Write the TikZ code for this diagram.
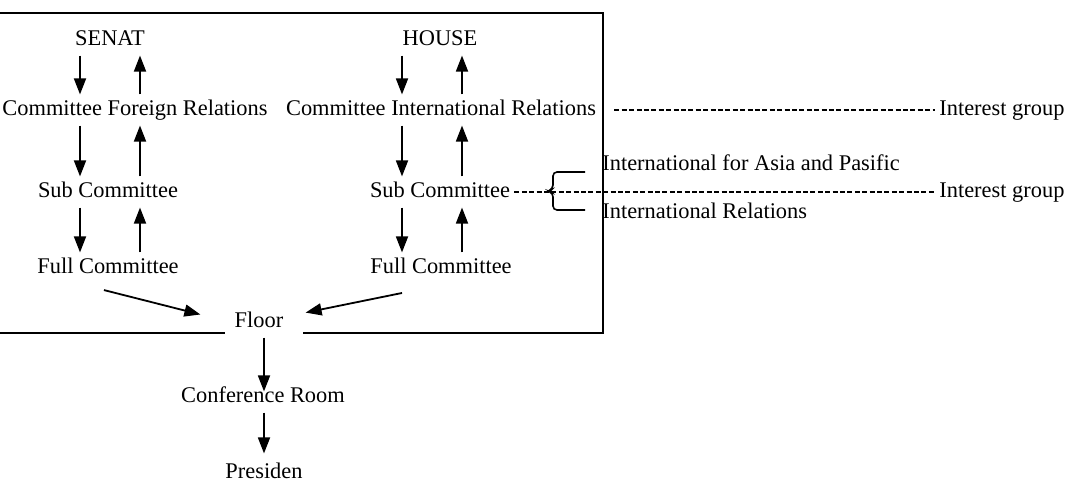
\documentclass[tikz,border=0pt]{standalone}
\usepackage{fontspec}
\setmainfont{Liberation Serif}
\usetikzlibrary{arrows.meta, calc}

\begin{document}
\begin{tikzpicture}[
  x=0.5pt, y=-0.5pt,
  entry/.style={font=\fontsize{11.2}{13}\selectfont, inner sep=2pt,
                text height=1.6ex, text depth=0.4ex},
  arrow/.style={-{Triangle[length=8pt,width=6pt]}, line width=0.9pt,
                shorten >=1pt, shorten <=1pt},
  frame/.style={line width=0.8pt},
  link/.style={line width=0.6pt, dash pattern=on 2.5pt off 1.2pt},
]
\useasboundingbox (0,0) rectangle (1070,485);

% two chambers
\node[entry] (senat) at (110,40) {SENAT};
\node[entry] (house) at (440,40) {HOUSE};
\node[entry] (cfr) at (135,110) {Committee Foreign Relations};
\node[entry] (cir) at (441,110) {Committee International Relations};
\node[entry] (subS) at (108,192) {Sub Committee};
\node[entry] (subH) at (440,192) {Sub Committee};
\node[entry] (fullS) at (108,268) {Full Committee};
\node[entry] (fullH) at (441,268) {Full Committee};

% after the chambers
\node[entry] (floor) at (259,322) {Floor};
\node[entry] (conf) at (263,397) {Conference Room};
\node[entry] (pres) at (264,473) {Presiden};

% outside the box
\node[entry, anchor=west] (asia) at (598,165) {International for Asia and Pasific};
\node[entry, anchor=west] (intrel) at (598,213) {International Relations};
\node[entry, anchor=west] (igA) at (935,110) {Interest group};
\node[entry, anchor=west] (igB) at (935,192) {Interest group};

\coordinate (Ldn) at (80,0);
\coordinate (Lup) at (140,0);
\coordinate (Rdn) at (402,0);
\coordinate (Rup) at (462,0);
\coordinate (Mid) at (264,0);

\foreach \a/\b in {senat/cfr, cfr/subS, subS/fullS} {
  \draw[arrow] (\a.south -| Ldn) -- (\b.north -| Ldn);
  \draw[arrow] (\b.north -| Lup) -- (\a.south -| Lup);
}
\foreach \a/\b in {house/cir, cir/subH, subH/fullH} {
  \draw[arrow] (\a.south -| Rdn) -- (\b.north -| Rdn);
  \draw[arrow] (\b.north -| Rup) -- (\a.south -| Rup);
}

\draw[arrow] ($(fullS.south)+(-6,8)$) -- ($(floor.west)+(-28,-7)$);
\draw[arrow] ($(fullH.south)+(-37,11)$) -- ($(floor.east)+(16,-9)$);
\draw[arrow, shorten >=-4pt] (floor.south -| Mid) -- (conf.north -| Mid);
\draw[arrow, shorten >=3pt] (conf.south -| Mid) -- (pres.north -| Mid);

% box round the chambers
\coordinate (boxNW) at (0,13);
\coordinate (boxNE) at (603,13);
\coordinate (boxSE) at (603,333);
\coordinate (boxSW) at (0,333);
\draw[frame] (boxSW) -- (225,333);
\draw[frame] (boxNW) -- (boxNE) -- (boxSE) -- (303,333);

% brace and interest groups
\draw[frame, rounded corners=2pt] (585,172) -- (553,172) -- (553,189)
  -- (548,191) -- (553,193) -- (553,210) -- (585,210);
\draw[link] (subH.east) -- (igB.west);
\draw[link] ([xshift=7pt]cir.east) -- (igA.west);
\end{tikzpicture}
\end{document}
